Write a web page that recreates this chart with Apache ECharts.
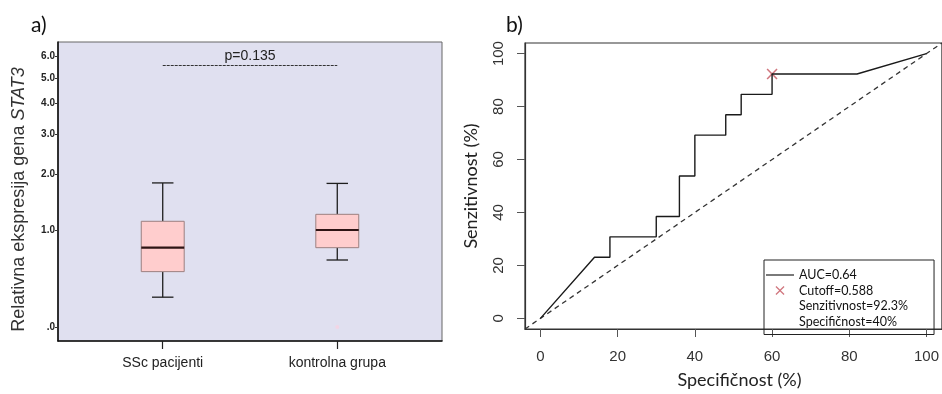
<!DOCTYPE html>
<html>
<head>
<meta charset="utf-8">
<script src="https://cdn.jsdelivr.net/npm/echarts@6/dist/echarts.min.js"></script>
<style>
  html, body { margin: 0; padding: 0; background: #fff; }
  #main { width: 942px; height: 394px; }
</style>
</head>
<body>
<div id="main"></div>
<script>
// a) box plot - relativna ekspresija
var groups = ['SSc pacijenti', 'kontrolna grupa'];
// min, Q1, median, Q3, max (whiskers)
var sscStats = [0.24, 0.49, 0.77, 1.14, 1.82];
var kontrolaStats = [0.62, 0.77, 1.01, 1.25, 1.81];
var outliers = [[1, 0.0]];
var yTicksA = [0, 1, 2, 3, 4, 5, 6];
var yTickLabelsA = ['.0', '1.0', '2.0', '3.0', '4.0', '5.0', '6.0'];
var pText = 'p=0.135';
var pLevel = 5.55;

// b) ROC kriva
var rocSpec = [0, 14, 18, 18, 30, 30, 36, 36, 40, 40, 48, 48, 52, 52, 60, 60, 82, 100];
var rocSens = [0, 23.1, 23.1, 30.8, 30.8, 38.5, 38.5, 53.8, 53.8, 69.2, 69.2, 76.9, 76.9, 84.6, 84.6, 92.3, 92.3, 100];
var diagonal = [[-4, -4], [104, 104]];
var cutoff = [[60, 92.3]];
var ticksB = [0, 20, 40, 60, 80, 100];
var legendLabels = ['AUC=0.64', 'Cutoff=0.588', 'Senzitivnost=92.3%', 'Specifičnost=40%'];

// skala na slici je log(x+1)
function tr(v) { return Math.log(v + 1); }

var boxData = [sscStats, kontrolaStats].map(function (s, i) {
  return [i].concat(s.map(tr));
});

var BOX_W = 0.246;
var whisk = { stroke: '#1e1e1e', lineWidth: 1.3 };

function renderBox(params, api) {
  var x = api.value(0);
  var half = api.size([BOX_W, 0])[0] / 2;
  var cap = half / 2;
  var pMin = api.coord([x, api.value(1)]);
  var pQ1 = api.coord([x, api.value(2)]);
  var pMed = api.coord([x, api.value(3)]);
  var pQ3 = api.coord([x, api.value(4)]);
  var pMax = api.coord([x, api.value(5)]);
  var cx = pMed[0];
  return {
    type: 'group',
    children: [
      { type: 'line', shape: { x1: cx, y1: pMax[1], x2: cx, y2: pQ3[1] }, style: whisk },
      { type: 'line', shape: { x1: cx, y1: pQ1[1], x2: cx, y2: pMin[1] }, style: whisk },
      { type: 'line', shape: { x1: cx - cap, y1: pMax[1], x2: cx + cap, y2: pMax[1] }, style: whisk },
      { type: 'line', shape: { x1: cx - cap, y1: pMin[1], x2: cx + cap, y2: pMin[1] }, style: whisk },
      { type: 'rect', shape: { x: cx - half, y: pQ3[1], width: half * 2, height: pQ1[1] - pQ3[1] },
        style: { fill: '#ffcdcd', stroke: '#9c8080', lineWidth: 1 } },
      { type: 'line', shape: { x1: cx - half, y1: pMed[1], x2: cx + half, y2: pMed[1] },
        style: { stroke: '#2e1414', lineWidth: 2.2 } }
    ]
  };
}

function labelA(v) {
  for (var i = 0; i < yTicksA.length; i++) {
    if (Math.abs(tr(yTicksA[i]) - v) < 1e-6) return yTickLabelsA[i];
  }
  return '';
}

var crossPath = 'path://M0,1L1,0L5,4L9,0L10,1L6,5L10,9L9,10L5,6L1,10L0,9L4,5Z';
var linePath = 'path://M0,0H28V1.2H0Z';
var hidden = { opacity: 0 };

var chart = echarts.init(document.getElementById('main'), null, { renderer: 'canvas' });

var option = {
  backgroundColor: '#ffffff',
  animation: false,
  textStyle: { fontFamily: 'Liberation Sans' },
  title: [
    { text: 'a)', left: 26, top: 10, textStyle: { fontFamily: 'Lato', fontSize: 21, fontWeight: 'normal', color: '#111' } },
    { text: 'b)', left: 501, top: 10, textStyle: { fontFamily: 'Lato', fontSize: 21, fontWeight: 'normal', color: '#111' } }
  ],
  grid: [
    { left: 58, top: 42, width: 384, height: 299, show: true, backgroundColor: '#e0e0f0',
      borderColor: '#666', borderWidth: 1 },
    { left: 525, top: 43, width: 419, height: 293, show: true, backgroundColor: 'transparent',
      borderColor: '#333', borderWidth: 1.2 }
  ],
  xAxis: [
    {
      type: 'value', gridIndex: 0, min: -0.6, max: 1.6,
      splitLine: { show: false },
      axisLine: { show: true, onZero: false, lineStyle: { color: '#111', width: 1.6 } },
      axisTick: { show: true, customValues: [0, 1], length: 8, lineStyle: { color: '#222', width: 1.2 } },
      axisLabel: {
        customValues: [0, 1], margin: 15, fontSize: 14, color: '#222',
        formatter: function (v) { return groups[Math.round(v)]; }
      }
    },
    {
      type: 'value', gridIndex: 1, min: -4, max: 104,
      splitLine: { show: false },
      axisLine: { show: true, onZero: false, lineStyle: { color: '#333', width: 1.2 } },
      axisTick: { show: true, customValues: ticksB, length: 8, lineStyle: { color: '#555' } },
      axisLabel: { customValues: ticksB, margin: 20, fontSize: 15, color: '#333' },
      name: 'Specifičnost (%)', nameLocation: 'middle', nameGap: 42,
      nameTextStyle: { fontFamily: 'Lato', fontSize: 18, color: '#222', padding: [0, 0, 0, 12] }
    }
  ],
  yAxis: [
    {
      type: 'value', gridIndex: 0, min: -0.1, max: 2.05,
      splitLine: { show: false },
      axisLine: { show: true, onZero: false, lineStyle: { color: '#111', width: 1.6 } },
      axisTick: { show: true, customValues: yTicksA.map(tr), length: 3, lineStyle: { color: '#333' } },
      axisLabel: {
        customValues: yTicksA.map(tr), margin: 3, fontSize: 10, fontWeight: 'bold', color: '#222',
        formatter: labelA
      },
      name: '{n|Relativna ekspresija gena }{i|STAT3}', nameLocation: 'middle', nameGap: 30,
      nameTextStyle: {
        padding: [0, 16, 0, 0],
        rich: {
          n: { fontFamily: 'Liberation Sans', fontSize: 18, color: '#333' },
          i: { fontFamily: 'Liberation Sans', fontSize: 18, color: '#333', fontStyle: 'italic' }
        }
      }
    },
    {
      type: 'value', gridIndex: 1, min: -4, max: 104,
      splitLine: { show: false },
      axisLine: { show: true, onZero: false, lineStyle: { color: '#333', width: 1.2 } },
      axisTick: { show: true, customValues: ticksB, length: 8, lineStyle: { color: '#555' } },
      axisLabel: { customValues: ticksB, margin: 19, fontSize: 15, color: '#333', rotate: 90 },
      name: 'Senzitivnost (%)', nameLocation: 'middle', nameGap: 45,
      nameTextStyle: { fontFamily: 'Lato', fontSize: 18, color: '#222' }
    }
  ],
  legend: {
    left: 764, top: 260, orient: 'vertical', selectedMode: false,
    borderColor: '#222', borderWidth: 1, padding: [8, 26, 6, 2],
    itemWidth: 28, itemHeight: 9, itemGap: 1.5,
    textStyle: { fontFamily: 'Lato', fontSize: 12.5, lineHeight: 14, color: '#111' },
    data: [
      { name: legendLabels[0], icon: linePath },
      { name: legendLabels[1], icon: crossPath },
      { name: legendLabels[2], icon: 'none', itemStyle: hidden, lineStyle: hidden },
      { name: legendLabels[3], icon: 'none', itemStyle: hidden, lineStyle: hidden }
    ]
  },
  series: [
    {
      type: 'custom', xAxisIndex: 0, yAxisIndex: 0,
      renderItem: renderBox,
      encode: { x: 0, y: [1, 2, 3, 4, 5] },
      data: boxData
    },
    {
      type: 'scatter', xAxisIndex: 0, yAxisIndex: 0,
      symbolSize: 4, itemStyle: { color: '#f6d2e2' },
      data: outliers.map(function (o) { return [o[0], tr(o[1])]; })
    },
    {
      // p vrijednost
      type: 'line', xAxisIndex: 0, yAxisIndex: 0, data: [],
      markLine: {
        silent: true, symbol: 'none',
        lineStyle: { color: '#333', width: 1, type: [3, 1] },
        label: { show: true, position: 'insideMiddleTop', distance: 3, formatter: pText,
          fontSize: 14, color: '#222' },
        data: [[{ coord: [0, tr(pLevel)] }, { coord: [1, tr(pLevel)] }]]
      }
    },
    {
      type: 'line', xAxisIndex: 1, yAxisIndex: 1,
      showSymbol: false, symbol: 'none',
      lineStyle: { color: '#333', width: 1.3, type: [5, 4] },
      data: diagonal
    },
    {
      name: legendLabels[0],
      type: 'line', xAxisIndex: 1, yAxisIndex: 1,
      showSymbol: false, symbol: 'none',
      lineStyle: { color: '#1a1a1a', width: 1.4 },
      itemStyle: { color: '#222' },
      data: rocSpec.map(function (x, i) { return [x, rocSens[i]]; })
    },
    {
      name: legendLabels[1],
      type: 'scatter', xAxisIndex: 1, yAxisIndex: 1,
      symbol: crossPath, symbolSize: 11,
      itemStyle: { color: '#c4545e' },
      data: cutoff
    },
    { name: legendLabels[2], type: 'line', xAxisIndex: 1, yAxisIndex: 1, data: [],
      symbol: 'none', lineStyle: hidden, itemStyle: hidden },
    { name: legendLabels[3], type: 'line', xAxisIndex: 1, yAxisIndex: 1, data: [],
      symbol: 'none', lineStyle: hidden, itemStyle: hidden }
  ]
};

chart.setOption(option);
</script>
</body>
</html>
